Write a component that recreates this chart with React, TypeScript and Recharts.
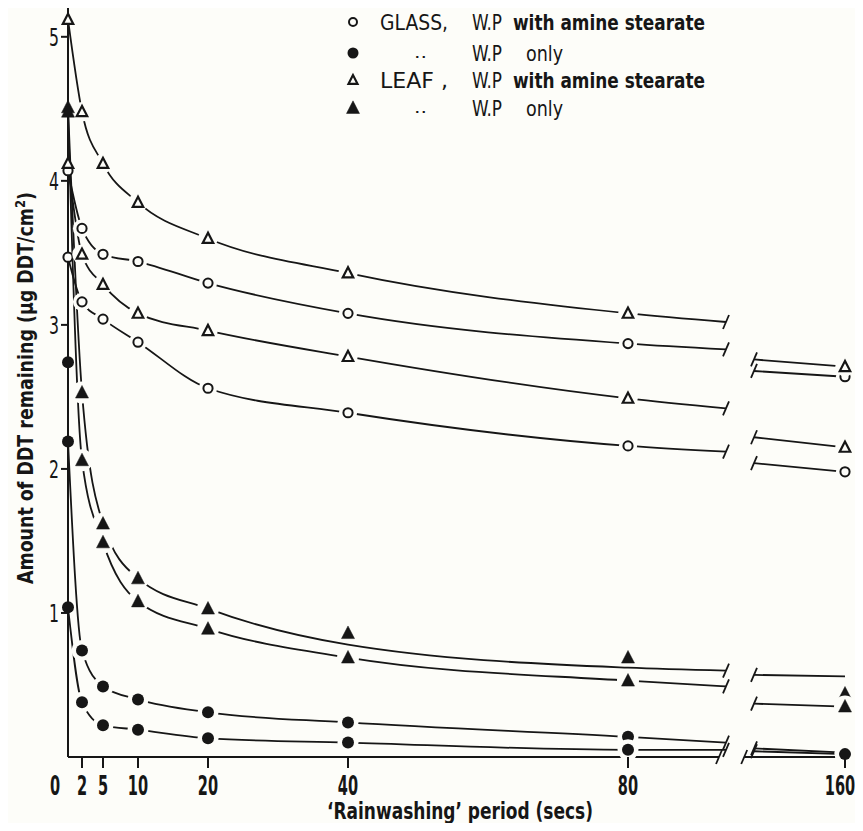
import React from 'react';
import { ComposedChart, Line, Scatter, XAxis, YAxis, Label } from 'recharts';

// rainwashing period (secs) at which deposits were measured
const SECS = [0, 2, 5, 10, 20, 40, 80, 160];
const Y_TICKS = [1, 2, 3, 4, 5];

// amount of DDT remaining (ug DDT/cm2) read at each SECS value
const glassAmineHi = [4.07, 3.67, 3.49, 3.44, 3.29, 3.08, 2.87, 2.64];
const glassAmineLo = [3.47, 3.16, 3.04, 2.88, 2.56, 2.39, 2.16, 1.98];
const glassWpHi = [2.19, 0.74, 0.49, 0.4, 0.31, 0.24, 0.14, 0.03];
const glassWpLo = [1.04, 0.38, 0.22, 0.19, 0.13, 0.1, 0.05, 0.02];
const leafAmineHi = [5.12, 4.48, 4.12, 3.85, 3.6, 3.36, 3.08, 2.71];
const leafAmineLo = [4.12, 3.49, 3.28, 3.08, 2.96, 2.78, 2.49, 2.15];
const leafWpHi = [4.51, 2.53, 1.62, 1.24, 1.03, 0.86, 0.69, 0.44];
const leafWpLo = [4.48, 2.06, 1.49, 1.08, 0.89, 0.69, 0.53, 0.35];

// the drawn curve for leafWpHi passes below its last points
const leafWpHiCurve = [4.51, 2.53, 1.62, 1.24, 1.03, 0.78, 0.62, 0.56];

// curve height where each line stops before the axis break and restarts after it
const glassAmineHiCut = [2.83, 2.68];
const glassAmineLoCut = [2.12, 2.04];
const glassWpHiCut = [0.1, 0.06];
const glassWpLoCut = [0.05, 0.04];
const leafAmineHiCut = [3.02, 2.76];
const leafAmineLoCut = [2.42, 2.22];
const leafWpHiCut = [0.6, 0.57];
const leafWpLoCut = [0.49, 0.37];

// a stray W.P-only glass reading at t = 0
const strayGlassWp = [{ secs: 0, value: 2.74 }];

const LEGEND = [
  ['GLASS,', 'W.P', 'with amine stearate'],
  ['··', 'W.P', 'only'],
  ['LEAF ,', 'W.P', 'with amine stearate'],
  ['··', 'W.P', 'only'],
];

const FONT = "'DejaVu Sans Condensed', 'Liberation Sans Narrow', 'DejaVu Sans', sans-serif";
const INK = '#161616';
const PAPER = '#fdfdf9';

// broken time axis: 160 s is drawn just past the break
const pos = (t: number) => (t > 100 ? t - 49 : t);
const secsAt = (p: number) => (p > 100 ? p + 49 : p);
const CURVE_CUT = [94, 98];
const AXIS_CUT = [93, 96.6];
const X_MAX = pos(160);

type Shape = 'circle' | 'triangle';

function Marker({ cx, cy, shape, filled, halo, small }: any) {
  if (cx == null || cy == null) return <g />;
  if (shape === 'circle') {
    const r = filled ? (small ? 5.5 : 6) : small ? 4 : 4.6;
    return (
      <g>
        {halo && <circle cx={cx} cy={cy} r={r + 4.5} fill={PAPER} />}
        <circle cx={cx} cy={cy} r={r} fill={filled ? INK : PAPER} stroke={INK} strokeWidth={filled ? 0 : 2} />
      </g>
    );
  }
  const s = filled ? 13 : small ? 9 : 10.5;
  const pts = `${cx},${cy - s * 0.55} ${cx - s / 2},${cy + s * 0.42} ${cx + s / 2},${cy + s * 0.42}`;
  return (
    <g>
      {halo && <circle cx={cx} cy={cy} r={s / 2 + 4.5} fill={PAPER} />}
      <polygon points={pts} fill={filled ? INK : PAPER} stroke={INK} strokeWidth={filled ? 0.5 : 2.2} strokeLinejoin="miter" />
    </g>
  );
}

const SERIES: { id: string; shape: Shape; filled: boolean; marks: number[]; curve: number[]; cut: number[] }[] = [
  { id: 'glassAmineHi', shape: 'circle', filled: false, marks: glassAmineHi, curve: glassAmineHi, cut: glassAmineHiCut },
  { id: 'glassAmineLo', shape: 'circle', filled: false, marks: glassAmineLo, curve: glassAmineLo, cut: glassAmineLoCut },
  { id: 'glassWpHi', shape: 'circle', filled: true, marks: glassWpHi, curve: glassWpHi, cut: glassWpHiCut },
  { id: 'glassWpLo', shape: 'circle', filled: true, marks: glassWpLo, curve: glassWpLo, cut: glassWpLoCut },
  { id: 'leafAmineHi', shape: 'triangle', filled: false, marks: leafAmineHi, curve: leafAmineHi, cut: leafAmineHiCut },
  { id: 'leafAmineLo', shape: 'triangle', filled: false, marks: leafAmineLo, curve: leafAmineLo, cut: leafAmineLoCut },
  { id: 'leafWpHi', shape: 'triangle', filled: true, marks: leafWpHi, curve: leafWpHiCurve, cut: leafWpHiCut },
  { id: 'leafWpLo', shape: 'triangle', filled: true, marks: leafWpLo, curve: leafWpLo, cut: leafWpLoCut },
];

function curveData(curve: number[], cut: number[]) {
  const left = SECS.map((t, i) => ({ x: pos(t), y: curve[i] })).filter((d) => d.x <= 80);
  return [
    ...left,
    { x: CURVE_CUT[0], y: cut[0], cut: true },
    { x: (CURVE_CUT[0] + CURVE_CUT[1]) / 2, y: null },
    { x: CURVE_CUT[1], y: cut[1], cut: true },
    { x: pos(160), y: curve[SECS.length - 1] },
  ];
}

function markData(marks: number[], curve: number[]) {
  return SECS.map((t, i) => ({
    x: pos(t),
    y: marks[i],
    halo: t > 0 && Math.abs(marks[i] - curve[i]) < 0.02,
  }));
}

const axisData = [
  { x: 0, y: 0 },
  { x: AXIS_CUT[0], y: 0, cut: true },
  { x: (AXIS_CUT[0] + AXIS_CUT[1]) / 2, y: null },
  { x: AXIS_CUT[1], y: 0, cut: true },
  { x: X_MAX, y: 0 },
];

const CutMark = (p: any) => {
  if (!p.payload || !p.payload.cut || p.cy == null) return <g key={`c${p.index}`} />;
  return (
    <line key={`c${p.index}`} x1={p.cx - 3} y1={p.cy + 7} x2={p.cx + 3} y2={p.cy - 7} stroke={INK} strokeWidth={1.8} />
  );
};

const XTick = (props: any) => {
  const { x, y, payload } = props;
  const secs = secsAt(payload.value);
  const label = String(secs);
  // keep the last label inside the page
  const dx = secs === 0 ? -13 : secs === 160 ? -5 : 0;
  return (
    <g>
      {secs > 0 && <line x1={x} y1={y} x2={x} y2={y + 11} stroke={INK} strokeWidth={2} />}
      <text
        transform={`translate(${x + dx}, ${y + 38}) scale(0.6, 1)`}
        textAnchor="middle"
        fill={INK}
        fontFamily={FONT}
        fontWeight="bold"
        fontSize={27}
      >
        {label}
      </text>
    </g>
  );
};

const YTick = (props: any) => {
  const { x, y, payload } = props;
  return (
    <text x={x} y={y + 9} textAnchor="end" fill={INK} fontFamily={FONT} fontSize={25} textLength={10} lengthAdjust="spacingAndGlyphs">
      {payload.value}
    </text>
  );
};

const YTitle = () => (
  <text
    x={25}
    y={380}
    transform="rotate(-90, 25, 380)"
    textAnchor="middle"
    fill={INK}
    fontFamily={FONT}
    fontWeight="bold"
    fontSize={21}
    textLength={392}
    lengthAdjust="spacingAndGlyphs"
  >
    Amount of DDT remaining (μg DDT/cm<tspan dy={-8} fontSize={14}>2</tspan>
    <tspan dy={8}>)</tspan>
  </text>
);

const XTitle = () => (
  <text
    x={452}
    y={811}
    textAnchor="middle"
    fill={INK}
    fontFamily={FONT}
    fontWeight="bold"
    fontSize={23}
    textLength={266}
    lengthAdjust="spacingAndGlyphs"
  >
    ‘Rainwashing’ period (secs)
  </text>
);

const LegendBox = () => {
  const shapes: [Shape, boolean][] = [
    ['circle', false],
    ['circle', true],
    ['triangle', false],
    ['triangle', true],
  ];
  const base = [30, 61, 88, 116];
  return (
    <svg width={855} height={130} style={{ position: 'absolute', left: -8, top: -8, pointerEvents: 'none' }}>
      {LEGEND.map(([head, wp, rest], i) => {
        const ditto = head === '··';
        return (
          <g key={i} fill={INK} fontFamily={FONT} fontSize={22}>
            <Marker cx={353} cy={base[i] - 8} shape={shapes[i][0]} filled={shapes[i][1]} small />
            <text
              x={ditto ? 414 : 380}
              y={ditto ? base[i] + 2 : base[i]}
              fontSize={ditto ? 16 : 22}
              textLength={ditto ? 13 : 68}
              lengthAdjust="spacingAndGlyphs"
            >
              {head}
            </text>
            <text x={472} y={base[i]} textLength={30} lengthAdjust="spacingAndGlyphs">
              {wp}
            </text>
            <text
              x={ditto ? 526 : 513}
              y={base[i]}
              fontWeight={ditto ? 'normal' : 'bold'}
              textLength={ditto ? 37 : 192}
              lengthAdjust="spacingAndGlyphs"
            >
              {rest}
            </text>
          </g>
        );
      })}
    </svg>
  );
};

export default function App() {
  return (
    <div style={{ position: 'relative', width: 855, height: 815, background: PAPER }}>
      <ComposedChart width={855} height={823} margin={{ top: 0, right: 18, bottom: 0, left: 10 }}>
        <XAxis
          dataKey="x"
          type="number"
          domain={[0, X_MAX]}
          ticks={SECS.map(pos)}
          interval={0}
          axisLine={false}
          tickLine={false}
          tickSize={0}
          tickMargin={0}
          height={74}
          tick={<XTick />}
        >
          <Label content={<XTitle />} />
        </XAxis>
        <YAxis
          dataKey="y"
          type="number"
          domain={[0, 5.2]}
          ticks={Y_TICKS}
          interval={0}
          width={50}
          axisLine={{ stroke: INK, strokeWidth: 2 }}
          tickLine={{ stroke: INK, strokeWidth: 2 }}
          tickSize={7}
          tickMargin={2}
          tick={<YTick />}
        >
          <Label content={<YTitle />} />
        </YAxis>
        <Line
          data={axisData}
          dataKey="y"
          type="linear"
          stroke={INK}
          strokeWidth={2}
          dot={CutMark}
          activeDot={false}
          connectNulls={false}
          isAnimationActive={false}
        />
        {SERIES.map((s) => (
          <Line
            key={s.id}
            data={curveData(s.curve, s.cut)}
            dataKey="y"
            type="monotone"
            stroke={INK}
            strokeWidth={1.8}
            dot={CutMark}
            activeDot={false}
            connectNulls={false}
            isAnimationActive={false}
          />
        ))}
        {SERIES.map((s) => (
          <Scatter
            key={`${s.id}-pts`}
            data={markData(s.marks, s.curve)}
            isAnimationActive={false}
            shape={(p: any) => <Marker cx={p.cx} cy={p.cy} shape={s.shape} filled={s.filled} halo={p.payload && p.payload.halo} />}
          />
        ))}
        <Scatter
          data={strayGlassWp.map((d) => ({ x: pos(d.secs), y: d.value }))}
          isAnimationActive={false}
          shape={(p: any) => <Marker cx={p.cx} cy={p.cy} shape="circle" filled />}
        />
      </ComposedChart>
      <LegendBox />
    </div>
  );
}
